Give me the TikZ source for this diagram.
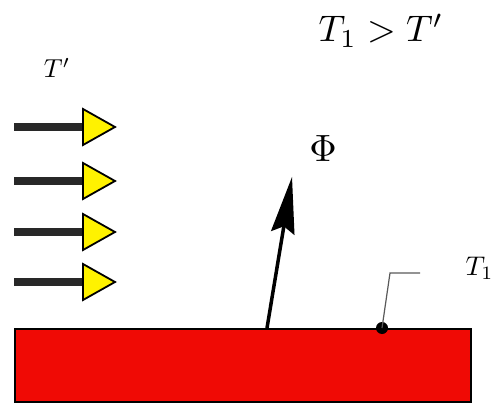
\documentclass[tikz,border=0pt]{standalone}
\usepackage{tikz}
\usetikzlibrary{calc}
\begin{document}
\begin{tikzpicture}[x=1pt,y=-1pt,
  shaft/.style={line width=8pt,draw={rgb,255:red,40;green,40;blue,40}},
  yhead/.style={fill=yellow,draw=black,line width=1.8pt,line join=miter},
  lbl/.style={inner sep=0pt}]
\useasboundingbox (0,0) rectangle (494,403);
% plate
\node[draw=black,line width=1.5pt,fill={rgb,255:red,240;green,10;blue,5},minimum width=456pt,minimum height=73pt,inner sep=0pt,anchor=north west] (plate) at (14,328) {};
% incoming arrows
\foreach \i/\yy in {1/127,2/181,3/232,4/282}{
  \coordinate (s\i) at (14,\yy);
  \coordinate (b\i) at (84,\yy);
  \draw[shaft] (s\i) -- (b\i);
  \draw[yhead] (83,\yy-18) -- (115,\yy) -- (83,\yy+18) -- cycle;
}
% flux arrow
\coordinate (f0) at (267,328);
\coordinate (ftip) at (292,177);
\draw[line width=3.5pt,black] (f0) -- ($(f0)!0.85!(ftip)$);
\fill[black] (ftip) -- ($(ftip)!57pt!(f0)!12pt!90:(f0)$) -- ($(ftip)!50pt!(f0)$) -- ($(ftip)!57pt!(f0)!12pt!-90:(f0)$) -- cycle;
% thermometer probe
\fill (382,328) circle (6pt) coordinate (dot);
\coordinate (k1) at (390,273);
\coordinate (k2) at (420,273);
\draw[line width=1.2pt,gray!70!black] (dot) -- (k1) -- (k2);
% labels
\node[lbl,anchor=base,scale=3.8] (phi) at (323,162) {$\Phi$};
\node[lbl,anchor=base,scale=2.6] (tp) at (57,78) {$T'$};
\node[lbl,anchor=base,scale=3.7] (rel) at (381,42) {$T_1>T'$};
\node[lbl,anchor=base east,scale=2.7] (t1) at (494,275) {$T_1$};
\end{tikzpicture}
\end{document}
